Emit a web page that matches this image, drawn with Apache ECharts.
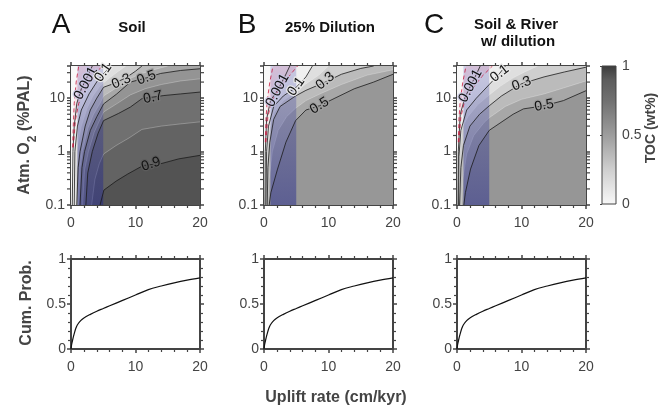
<!DOCTYPE html>
<html>
<head>
<meta charset="utf-8">
<script src="https://cdn.jsdelivr.net/npm/echarts@6/dist/echarts.min.js"></script>
<style>
html, body { margin: 0; padding: 0; background: #fff; }
#chart { width: 659px; height: 410px; }
</style>
</head>
<body>
<div id="chart"></div>
<script>
// axis ranges
var upliftRange = [0, 20];          // cm/kyr
var o2Range = [0.1, 40];            // %PAL
var rockBand = [1, 5];              // blue shaded uplift band
var logMinor = [0.2, 0.3, 0.4, 0.5, 0.6, 0.7, 0.8, 0.9, 2, 3, 4, 5, 6, 7, 8, 9, 20, 30];

// TOC colour map (value -> grey level)
var cmapV = [0, 0.25, 0.5, 0.75, 0.9, 1];
var cmapG = [248, 207, 157, 112, 92, 58];

// ---- panel A : Soil ----
var aLevels = [0.001, 0.1, 0.2, 0.3, 0.4, 0.5, 0.6, 0.7, 0.8, 0.9];
var aMajor  = [1, 1, 0, 1, 0, 1, 0, 1, 0, 1];
var aMax = 0.95;
var a0001 = [[0.2,0.1],[0.3,1],[0.5,3],[0.9,8],[1.6,15],[2.5,25],[3.3,40]];
var a01 = [[0.5,0.1],[0.6,1],[1.0,3],[1.6,6],[2.8,12],[4.2,22],[5.5,33],[6.3,40]];
var a02 = [[0.7,0.1],[0.85,1],[1.6,3],[2.5,6.5],[3.4,11],[4.5,17],[6,24],[7.2,31],[8.5,40]];
var a03 = [[0.9,0.1],[1.1,0.5],[1.4,1],[2.2,3],[3,6],[4,10],[5.05,16],[6.5,18.5],[8.5,24],[10,32],[11,40]];
var a04 = [[1.15,0.1],[1.4,0.5],[1.75,1],[2.6,2.7],[3.5,5],[4.5,8],[5.05,11],[7,15.5],[9,23],[11,29],[13,34.5],[15,40]];
var a05 = [[1.4,0.1],[1.7,0.5],[2.1,1],[3,2.5],[4,4.5],[5.05,7.8],[7.1,12],[9.2,20],[11.7,24],[13.9,29],[17,33],[20,35.5]];
var a06 = [[1.8,0.1],[2.1,0.45],[2.7,1],[3.6,2.3],[4.5,4],[5.05,5.5],[7.2,8],[9.2,11.5],[11.5,15],[14,18],[17,21],[20,23]];
var a07 = [[2.3,0.1],[2.6,0.4],[3.3,1],[4.2,2.2],[5.05,3.8],[7.4,5.2],[9.2,6.8],[11,9.8],[14.4,11.2],[17,12],[20,13]];
var a08 = [[3.2,0.1],[3.7,0.3],[4.4,0.6],[5.05,0.9],[7,1.3],[9,1.8],[11,2.6],[14,3],[17,3.3],[20,3.6]];
var a09 = [[4.5,0.1],[5.1,0.19],[7,0.28],[8.8,0.38],[11.2,0.55],[14.1,0.6],[16.7,0.73],[20,0.85]];
var aRedL = [[0.25,1.2],[0.35,3],[0.5,8],[0.8,20],[1.2,40]];
var aRedR = [[0.35,1.2],[0.7,4],[1.2,8],[2.2,14],[3.5,25],[4.8,40]];
var aLabels = [[2.3,19,62,'0.001'],[5.0,30,55,'0.1'],[7.8,20.5,22,'0.3'],[11.7,24,20,'0.5'],[12.7,10.3,12,'0.7'],[12.4,0.58,18,'0.9']];

// ---- panel B : 25% Dilution ----
var bLevels = [0.001, 0.1, 0.2, 0.3, 0.4, 0.5];
var bMajor  = [1, 1, 0, 1, 0, 1];
var bMax = 0.57;
var b0001 = [[0.15,0.1],[0.2,1],[0.4,4],[1.0,9],[2.1,14],[3.2,25],[4,40]];
var b01 = [[0.3,0.1],[0.4,1],[0.7,3],[1.5,7],[3,11],[5,16],[6.5,25],[7.5,40]];
var b02 = [[0.4,0.1],[0.5,1],[0.9,2.8],[1.6,5.5],[3,9],[4.9,13],[6.5,18.5],[8.5,27],[10,40]];
var b03 = [[0.5,0.1],[0.6,0.5],[0.9,1.5],[1.5,4],[2.5,7],[4.9,11],[6.5,14],[9.5,20],[12,28],[15,36],[17,40]];
var b04 = [[0.6,0.1],[0.8,0.3],[1.3,1],[2.2,2.5],[3.5,4.5],[4.9,6.5],[6.5,9],[9,12.5],[12,18],[16,27],[20,34]];
var b05 = [[0.8,0.1],[1.06,0.17],[2.1,0.47],[3.4,1.5],[4.9,3.8],[6.5,6],[8.6,7.2],[11,10],[14,15],[17,20],[20,28]];
var bRedL = [[0.2,1.5],[0.3,4],[0.5,9],[0.9,20],[1.4,40]];
var bRedR = [[0.3,1.5],[0.6,4.5],[1.2,9],[2.4,15],[3.8,25],[5.2,40]];
var bLabels = [[2.1,14,62,'0.001'],[5.0,16.5,55,'0.1'],[9.5,21,40,'0.3'],[8.6,7.2,32,'0.5']];

// ---- panel C : Soil & River w/ dilution ----
var cLevels = [0.001, 0.1, 0.2, 0.3, 0.4, 0.5];
var cMajor  = [1, 1, 0, 1, 0, 1];
var cMax = 0.58;
var c0001 = [[0.15,0.1],[0.2,1],[0.5,5],[1.2,10],[2.1,17],[3,28],[3.6,40]];
var c01 = [[0.25,0.1],[0.3,0.8],[0.6,2.5],[1.5,6],[3,10],[5,18],[6.6,29],[7.5,40]];
var c02 = [[0.3,0.1],[0.45,1],[0.8,2.8],[1.7,4.5],[3.2,7.5],[5,11.5],[6.8,17],[8.7,24],[10.5,31],[12.5,40]];
var c03 = [[0.4,0.1],[0.6,0.5],[1.0,1.3],[2,3],[3.5,5],[5,7.2],[6.9,11],[8.7,15],[10,18.6],[13.5,25],[16.7,31],[20,38]];
var c04 = [[0.7,0.1],[0.9,0.3],[1.5,0.9],[2.6,2],[4.2,3.5],[5,4.3],[7.5,7],[10,9.5],[13.5,12],[16.5,15.5],[20,21]];
var c05 = [[1.06,0.1],[1.3,0.17],[2.1,0.47],[3.4,1.3],[5,2.5],[8.7,5],[10.3,6.3],[13.5,7.2],[16.5,9],[20,13.8]];
var cRedL = [[0.2,1.5],[0.3,4],[0.5,9],[0.9,20],[1.4,40]];
var cRedR = [[0.3,1.5],[0.6,4.5],[1.2,9],[2.4,15],[3.8,25],[5.5,40]];
var cLabels = [[2.1,17,62,'0.001'],[6.6,29,38,'0.1'],[10,18.6,20,'0.3'],[13.5,7.3,10,'0.5']];

// cumulative probability of uplift rate (same in all three panels)
var cdfU = [0, 0.1, 0.25, 0.5, 0.75, 1, 1.5, 2, 3, 4, 5, 6, 8, 10, 12, 14, 16, 18, 20];
var cdfP = [0, 0.05, 0.1, 0.17, 0.23, 0.27, 0.315, 0.345, 0.385, 0.42, 0.45, 0.48, 0.54, 0.6, 0.66, 0.7, 0.735, 0.765, 0.79];

var FONT = '"Liberation Sans", Arial, Helvetica, sans-serif';
var AX = '#444';

function grey(v) {
  var g = cmapG[cmapG.length - 1];
  for (var i = 0; i < cmapV.length - 1; i++) {
    if (v <= cmapV[i + 1]) {
      var t = (v - cmapV[i]) / (cmapV[i + 1] - cmapV[i]);
      g = cmapG[i] + t * (cmapG[i + 1] - cmapG[i]);
      break;
    }
  }
  g = Math.round(g);
  return 'rgb(' + g + ',' + g + ',' + g + ')';
}

// close a contour along the plot border on its high (lower-right) side
function closeRegion(pts) {
  var lmin = Math.log10(o2Range[0]), lmax = Math.log10(o2Range[1]), span = lmax - lmin;
  var W = upliftRange[1];
  function t(p) {
    var u = p[0], y = p[1];
    if (y >= o2Range[1] * 0.999) return u / W;
    if (u >= W - 0.001) return 1 + (lmax - Math.log10(y)) / span;
    if (y <= o2Range[0] * 1.001) return 2 + (W - u) / W;
    return 3 + (Math.log10(y) - lmin) / span;
  }
  var corners = [[0, o2Range[1]], [W, o2Range[1]], [W, o2Range[0]], [0, o2Range[0]]];
  var t0 = t(pts[pts.length - 1]), t1 = t(pts[0]);
  if (t1 <= t0) t1 += 4;
  var out = pts.slice();
  for (var k = Math.ceil(t0); k < t1; k++) {
    if (k > t0) out.push(corners[k % 4]);
  }
  return out;
}

var panels = [
  { levels: aLevels, major: aMajor, max: aMax, lines: [a0001, a01, a02, a03, a04, a05, a06, a07, a08, a09], redL: aRedL, redR: aRedR, labels: aLabels },
  { levels: bLevels, major: bMajor, max: bMax, lines: [b0001, b01, b02, b03, b04, b05], redL: bRedL, redR: bRedR, labels: bLabels },
  { levels: cLevels, major: cMajor, max: cMax, lines: [c0001, c01, c02, c03, c04, c05], redL: cRedL, redR: cRedR, labels: cLabels }
];

var lefts = [71, 264, 457];
var grids = [], xAxes = [], yAxes = [], series = [];

function valueX(show, pos) {
  return {
    type: 'value', position: pos, min: upliftRange[0], max: upliftRange[1], interval: 10,
    axisLine: { show: true, onZero: false, lineStyle: { color: AX, width: 2 } },
    axisTick: { show: true, length: 4, lineStyle: { color: AX, width: 1.5 } },
    minorTick: { show: true, splitNumber: 5, length: 3, lineStyle: { color: AX, width: 1.2 } },
    axisLabel: { show: show, color: AX, fontSize: 14, fontFamily: FONT, margin: 11 },
    splitLine: { show: false }
  };
}

// top contour grids
lefts.forEach(function (l) {
  grids.push({ left: l, top: 66, width: 129, height: 139 });
});
// bottom probability grids
lefts.forEach(function (l) {
  grids.push({ left: l, top: 259, width: 129, height: 90 });
});
// colour bar grid
grids.push({ left: 602, top: 66, width: 14, height: 138 });

for (var g = 0; g < 6; g++) {
  xAxes.push(Object.assign(valueX(true, 'bottom'), { gridIndex: g }));
  xAxes.push(Object.assign(valueX(false, 'top'), { gridIndex: g }));
  if (g < 3) {
    [['left', true], ['right', false]].forEach(function (s) {
      yAxes.push({
        type: 'log', logBase: 10, gridIndex: g, position: s[0], min: o2Range[0], max: o2Range[1],
        axisLine: { show: true, onZero: false, lineStyle: { color: AX, width: 2 } },
        axisTick: { show: true, length: 4, lineStyle: { color: AX, width: 1.5 } },
        axisLabel: {
          show: s[1], color: AX, fontSize: 14, fontFamily: FONT, margin: 6,
          formatter: function (v) { return v > 15 ? '' : String(+(+v).toPrecision(2)); }
        },
        splitLine: { show: false }
      });
    });
  } else {
    [['left', true], ['right', false]].forEach(function (s) {
      yAxes.push({
        type: 'value', gridIndex: g, position: s[0], min: 0, max: 1, interval: 0.5,
        axisLine: { show: true, onZero: false, lineStyle: { color: AX, width: 2 } },
        axisTick: { show: true, length: 4, lineStyle: { color: AX, width: 1.5 } },
        minorTick: { show: true, splitNumber: 5, length: 3, lineStyle: { color: AX, width: 1.2 } },
        axisLabel: { show: s[1], color: AX, fontSize: 14, fontFamily: FONT, margin: 5 },
        splitLine: { show: false }
      });
    });
  }
}
// colour bar axes
xAxes.push({ type: 'value', gridIndex: 6, min: 0, max: 1, show: false });
yAxes.push({
  type: 'value', gridIndex: 6, position: 'right', min: 0, max: 1, interval: 0.5,
  axisLine: { show: false }, axisTick: { show: true, inside: true, length: 2, lineStyle: { color: AX } },
  axisLabel: { color: AX, fontSize: 14, fontFamily: FONT, margin: 6 },
  splitLine: { show: false }
});

panels.forEach(function (p, g) {
  var ax = 2 * g;
  // filled contour bands
  var fills = [{ pts: [[0, o2Range[0]], [0, o2Range[1]], [20, o2Range[1]], [20, o2Range[0]]], color: grey(0) }];
  p.levels.forEach(function (lv, i) {
    var hi = i < p.levels.length - 1 ? p.levels[i + 1] : p.max;
    fills.push({ pts: closeRegion(p.lines[i]), color: grey((lv + hi) / 2) });
  });
  series.push({
    type: 'custom', xAxisIndex: ax, yAxisIndex: ax, z: 1, silent: true, animation: false,
    data: fills.map(function (f, i) { return [10, 1, i]; }),
    renderItem: function (params, api) {
      var f = fills[api.value(2)];
      return { type: 'polygon', shape: { points: f.pts.map(function (q) { return api.coord(q); }) }, style: { fill: f.color } };
    }
  });
  // thin light contour lines
  p.lines.forEach(function (ln, i) {
    if (p.major[i]) return;
    series.push({
      type: 'line', xAxisIndex: ax, yAxisIndex: ax, data: ln, symbol: 'none', z: 2, silent: true, animation: false,
      lineStyle: { color: 'rgba(255,255,255,0.45)', width: 0.6 }
    });
  });
  // blue uplift band and pink region
  series.push({
    type: 'custom', xAxisIndex: ax, yAxisIndex: ax, z: 3, silent: true, animation: false,
    data: [[rockBand[0], o2Range[1], 0]],
    renderItem: function (params, api) {
      var a = api.coord([rockBand[0], o2Range[1]]), b = api.coord([rockBand[1], o2Range[0]]);
      var pink = p.redL.concat(p.redR.slice().reverse()).map(function (q) { return api.coord(q); });
      var blue = new echarts.graphic.LinearGradient(0, 0, 0, 1, [
        { offset: 0, color: 'rgba(40,45,160,0.2)' },
        { offset: 1, color: 'rgba(25,30,140,0.46)' }
      ]);
      return {
        type: 'group', children: [
          { type: 'rect', shape: { x: a[0], y: a[1], width: b[0] - a[0], height: b[1] - a[1] }, style: { fill: blue } },
          { type: 'polygon', shape: { points: pink }, style: { fill: 'rgba(235,110,145,0.16)' } }
        ]
      };
    }
  });
  // black contour lines
  p.lines.forEach(function (ln, i) {
    if (!p.major[i]) return;
    series.push({
      type: 'line', xAxisIndex: ax, yAxisIndex: ax, data: ln, symbol: 'none', z: 4, silent: true, animation: false,
      lineStyle: { color: '#1a1a1a', width: 0.8 }
    });
  });
  [p.redL, p.redR].forEach(function (ln) {
    series.push({
      type: 'line', xAxisIndex: ax, yAxisIndex: ax, data: ln, symbol: 'none', z: 4, silent: true, animation: false,
      lineStyle: { color: '#c8183e', width: 0.8, type: [4, 3] }
    });
  });
  // contour labels (haloed with the local band colour so the line looks broken)
  series.push({
    type: 'custom', xAxisIndex: ax, yAxisIndex: ax, z: 5, silent: true, animation: false,
    data: p.labels.map(function (l, i) { return [l[0], l[1], i]; }),
    renderItem: function (params, api) {
      var l = p.labels[api.value(2)];
      var c = api.coord([l[0], l[1]]);
      var inBlue = l[0] < rockBand[1];
      return {
        type: 'text', x: c[0], y: c[1], rotation: l[2] * Math.PI / 180,
        style: {
          text: l[3], fontSize: 14, fontFamily: FONT, fill: '#111', align: 'center', verticalAlign: 'middle',
          stroke: inBlue ? 'rgba(200,200,230,0.8)' : grey(parseFloat(l[3])), lineWidth: 2.5
        }
      };
    }
  });
  // logarithmic minor ticks on both sides
  series.push({
    type: 'custom', xAxisIndex: ax, yAxisIndex: ax, z: 6, silent: true, animation: false,
    data: logMinor.map(function (v) { return [0, v]; }),
    renderItem: function (params, api) {
      var a = api.coord([upliftRange[0], api.value(1)]), b = api.coord([upliftRange[1], api.value(1)]);
      var st = { stroke: AX, lineWidth: 1.2 };
      return {
        type: 'group', children: [
          { type: 'line', shape: { x1: a[0] - 1, y1: a[1], x2: a[0] - 4, y2: a[1] }, style: st },
          { type: 'line', shape: { x1: b[0] + 1, y1: b[1], x2: b[0] + 4, y2: b[1] }, style: st }
        ]
      };
    }
  });
  // cumulative probability curve
  series.push({
    type: 'line', xAxisIndex: 2 * (g + 3), yAxisIndex: 2 * (g + 3), symbol: 'none', smooth: 0.35, silent: true, animation: false,
    data: cdfU.map(function (u, i) { return [u, cdfP[i]]; }),
    lineStyle: { color: '#111', width: 1.2 }
  });
});

// colour bar
series.push({
  type: 'custom', xAxisIndex: 12, yAxisIndex: 12, silent: true, animation: false,
  data: [[0, 0]],
  renderItem: function (params, api) {
    var p0 = api.coord([0, 0]), p1 = api.coord([1, 1]);
    var stops = cmapV.map(function (v) { return { offset: v, color: grey(v) }; });
    return {
      type: 'rect', shape: { x: p0[0], y: p1[1], width: p1[0] - p0[0], height: p0[1] - p1[1] },
      style: { fill: new echarts.graphic.LinearGradient(0, 1, 0, 0, stops), stroke: AX, lineWidth: 1 }
    };
  }
});

function txt(x, y, s, size, bold, rot, color) {
  return {
    type: 'text', x: x, y: y, rotation: rot || 0, silent: true,
    style: { text: s, fontSize: size, fontWeight: bold ? 'bold' : 'normal', fontFamily: FONT, fill: color || '#111', align: 'center', verticalAlign: 'middle' }
  };
}

var graphics = [
  txt(61, 25, 'A', 28, false), txt(132, 28, 'Soil', 15, true),
  txt(247, 25, 'B', 28, false), txt(330, 28, '25% Dilution', 15, true),
  txt(434, 25, 'C', 28, false), txt(516, 25, 'Soil & River', 15, true), txt(518, 42, 'w/ dilution', 15, true),
  txt(336, 398, 'Uplift rate (cm/kyr)', 16, true, 0, AX),
  txt(27, 303, 'Cum. Prob.', 16, true, Math.PI / 2, AX),
  txt(651, 128, 'TOC (wt%)', 14, true, Math.PI / 2, AX),
  {
    type: 'text', x: 28, y: 135, rotation: Math.PI / 2, silent: true,
    style: {
      text: '{b|Atm. O}{s|2}{b| (%PAL)}', align: 'center', verticalAlign: 'middle', fill: AX,
      rich: {
        b: { fontSize: 16, fontWeight: 'bold', fontFamily: FONT, fill: AX, lineHeight: 22, verticalAlign: 'top' },
        s: { fontSize: 12, fontWeight: 'bold', fontFamily: FONT, fill: AX, lineHeight: 22, verticalAlign: 'bottom' }
      }
    }
  }
];

var chart = echarts.init(document.getElementById('chart'), null, { renderer: 'canvas' });
chart.setOption({
  animation: false,
  backgroundColor: '#fff',
  grid: grids,
  xAxis: xAxes,
  yAxis: yAxes,
  series: series,
  graphic: graphics
});
</script>
</body>
</html>
